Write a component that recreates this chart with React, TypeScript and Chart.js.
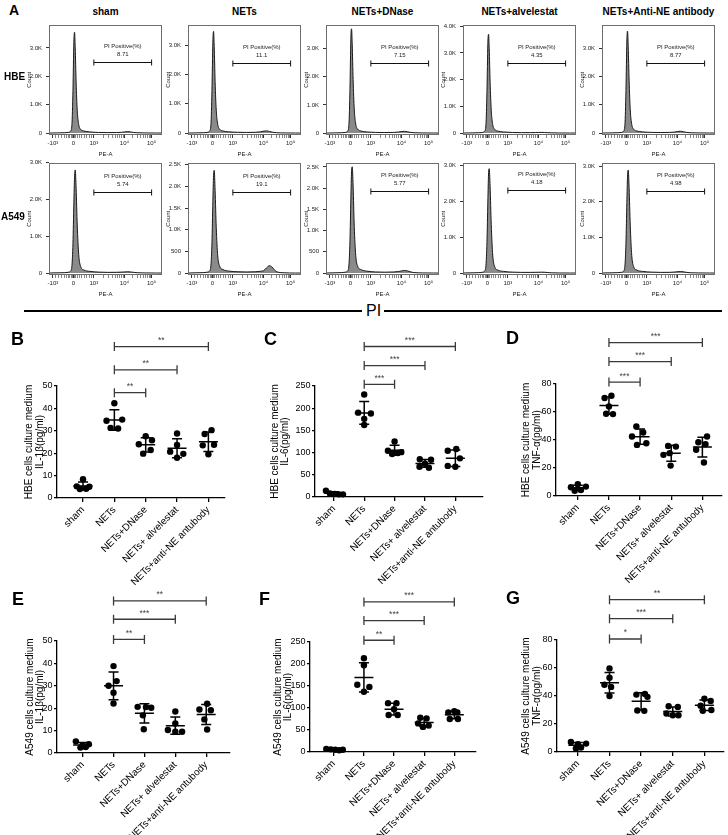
import React, { useEffect, useRef } from 'react';
import { Chart, registerables } from 'chart.js';

Chart.register(...registerables);

const FONT = "'Liberation Sans', Arial, Helvetica, sans-serif";
Chart.defaults.font.family = FONT;
Chart.defaults.color = '#000';

// ================= Panel A : flow cytometry histograms =================
const flowConditions = ['sham', 'NETs', 'NETs+DNase', 'NETs+alvelestat', 'NETs+Anti-NE antibody'];
const flowCellLines = ['HBE', 'A549'];
const peTickLabels = ['-10³', '0', '10³', '10⁴', '10⁵'];
const peTickPos = [3.5, 21.5, 39.7, 66.8, 90.8];
const peMinorPos = [5.8, 8.5, 11, 13.3, 15.3, 17, 18.5, 19.6, 20.6, 22.5, 23.6, 25, 26.7, 28.7, 31, 33.4, 35.8, 38,
  47.9, 52.6, 56.0, 58.6, 60.8, 62.6, 64.2, 65.6, 74.0, 78.3, 81.2, 83.6, 85.5, 87.1, 88.5, 89.7];
// PE-A display position (% of axis) of every histogram point
const histX = [0, 8, 14, 17, 19, 20.3, 21.2, 22, 22.6, 23.2, 24, 25, 26.3, 28, 31, 36, 44, 52, 60, 64, 67, 69.5, 72, 74.5, 78, 85, 95, 100];
// counts (HBE row)
const histHBE = [
  [0, 5, 10, 20, 60, 300, 1500, 3200, 3550, 3000, 1800, 800, 300, 130, 70, 40, 20, 15, 18, 25, 40, 50, 40, 22, 10, 4, 0, 0],
  [0, 5, 10, 20, 60, 290, 1450, 3100, 3470, 2950, 1750, 780, 300, 130, 70, 40, 25, 20, 25, 40, 65, 72, 55, 30, 12, 4, 0, 0],
  [0, 5, 10, 20, 60, 310, 1550, 3350, 3700, 3150, 1900, 850, 320, 140, 70, 40, 22, 18, 22, 35, 55, 60, 45, 25, 10, 4, 0, 0],
  [0, 5, 10, 20, 60, 310, 1550, 3350, 3700, 3150, 1900, 850, 320, 140, 70, 40, 20, 15, 15, 18, 22, 25, 20, 14, 6, 2, 0, 0],
  [0, 5, 10, 20, 60, 300, 1500, 3250, 3600, 3050, 1850, 820, 310, 135, 70, 40, 22, 18, 22, 32, 55, 62, 45, 25, 10, 4, 0, 0],
];
// counts (A549 row)
const histA549 = [
  [0, 5, 10, 20, 50, 200, 800, 1900, 2600, 2800, 2300, 1300, 500, 180, 80, 45, 25, 18, 20, 25, 30, 35, 30, 20, 8, 3, 0, 0],
  [0, 5, 10, 20, 45, 180, 700, 1650, 2250, 2370, 1900, 1050, 400, 160, 80, 45, 30, 25, 30, 40, 55, 120, 170, 135, 35, 6, 0, 0],
  [0, 5, 10, 20, 45, 190, 750, 1750, 2380, 2500, 2050, 1100, 420, 160, 80, 45, 25, 20, 25, 35, 50, 60, 50, 30, 10, 3, 0, 0],
  [0, 5, 10, 20, 50, 210, 850, 2000, 2750, 2900, 2400, 1350, 500, 180, 80, 45, 25, 18, 18, 20, 22, 25, 22, 15, 6, 2, 0, 0],
  [0, 5, 10, 20, 50, 210, 840, 1980, 2720, 2890, 2380, 1340, 500, 180, 80, 45, 25, 18, 20, 28, 38, 42, 35, 20, 8, 3, 0, 0],
];
const histMaxHBE = [3820, 3700, 3850, 4060, 3830];
const histMaxA549 = [3000, 2550, 2600, 3070, 3100];
const histStepHBE = [1000, 1000, 1000, 1000, 1000];
const histStepA549 = [1000, 500, 500, 1000, 1000];
const gateHBE = [2490, 2400, 2500, 2640, 2490];
const gateA549 = [2200, 1880, 1920, 2310, 2290];
const piPositiveHBE = ['8.71', '11.1', '7.15', '4.35', '8.77'];
const piPositiveA549 = ['5.74', '19.1', '5.77', '4.18', '4.98'];

// ================= Panels B-G : cytokines =================
const dotCategories = ['sham', 'NETs', 'NETs+DNase', 'NETs+ alvelestat', 'NETs+anti-NE antubody'];

const hbeIL1b = [[8.4, 5.2, 5.0, 4.0, 4.1], [42.3, 34.5, 35.0, 31.3, 31.0], [27.6, 25.8, 24.0, 19.8, 21.4], [28.8, 23.7, 20.7, 19.7, 18.0], [30.3, 28.6, 23.5, 23.8, 19.5]];
const hbeIL1bJit = [[0, -0.2, 0.2, -0.1, 0.1], [0, -0.25, 0.25, -0.12, 0.12], [0, 0.2, -0.22, -0.08, 0.16], [0, 0, -0.22, 0.2, 0], [0.1, -0.12, -0.18, 0.18, 0]];
const hbeIL6 = [[14, 8, 7, 6, 6], [231, 190, 188, 176, 162], [125, 104, 101, 97, 99], [85, 84, 75, 68, 66], [108, 104, 87, 70, 68]];
const hbeIL6Jit = [[-0.26, -0.13, 0.03, 0.17, 0.3], [0, -0.2, 0.22, 0, 0], [0, -0.22, 0.22, -0.08, 0.1], [-0.17, 0.2, 0, -0.18, 0.13], [0.03, -0.25, 0.15, -0.25, 0]];
const hbeTNF = [[8.4, 6.2, 6.7, 3.8, 4.2], [71.6, 70.0, 64.0, 58.7, 58.5], [49.7, 45.4, 42.5, 36.5, 37.7], [35.8, 35.3, 30.6, 29.4, 21.7], [42.5, 38.4, 37.0, 33.0, 23.9]];
const hbeTNFJit = [[0, -0.22, 0.26, -0.1, 0.1], [0.08, -0.14, 0, -0.09, 0.13], [-0.12, 0.1, -0.26, -0.1, 0.2], [-0.1, 0.15, -0.05, -0.25, -0.02], [0.15, -0.13, 0.1, -0.2, 0.05]];
const a549IL1b = [[5.2, 3.9, 3.5, 2.4, 2.7], [38.8, 32.1, 30.0, 26.9, 22.1], [20.6, 20.5, 20.2, 16.8, 10.6], [18.5, 13.2, 10.3, 9.5, 9.5], [22.0, 19.4, 19.1, 15.0, 10.5]];
const a549IL1bJit = [[-0.22, 0.2, 0, -0.07, 0.1], [0, 0.1, -0.16, 0, 0], [-0.22, 0.05, 0.22, -0.05, -0.02], [0, 0, -0.24, 0.22, 0], [0.03, -0.22, 0.15, -0.06, 0.03]];
const a549IL6 = [[7, 6, 5, 4, 5], [213, 197, 153, 148, 137], [111, 111, 97, 84, 84], [78, 76, 65, 60, 57], [90, 93, 90, 75, 75]];
const a549IL6Jit = [[-0.25, -0.1, 0.05, 0.18, 0.3], [0, 0, -0.22, 0.18, 0], [-0.2, 0.08, 0, -0.18, 0.12], [-0.13, 0.08, -0.2, 0.15, -0.04], [-0.2, 0, 0.1, -0.15, 0.12]];
const a549TNF = [[7.2, 5.5, 6.0, 2.5, 3.2], [59.7, 53.0, 48.0, 46.5, 40.0], [41.5, 41.0, 39.4, 29.6, 29.4], [32.7, 32.2, 27.5, 26.2, 26.3], [38.0, 36.5, 33.0, 30.0, 29.5]];
const a549TNFJit = [[-0.22, 0, 0.26, -0.06, 0.1], [0, 0, -0.16, 0.05, 0], [0.12, -0.15, 0.2, -0.12, 0.1], [-0.13, 0.16, -0.2, 0, 0.18], [0, 0.2, -0.12, 0.22, -0.05]];

const starsB = ['**', '**', '**'];
const starsC = ['***', '***', '***'];
const starsD = ['***', '***', '***'];
const starsE = ['**', '***', '**'];
const starsF = ['**', '***', '***'];
const starsG = ['*', '***', '**'];

// ---------------- plugins ----------------
const boxPlugin = {
  id: 'box',
  afterDraw(chart: any) {
    const { ctx, chartArea: a } = chart;
    ctx.save();
    ctx.strokeStyle = '#6e6e6e';
    ctx.lineWidth = 1;
    ctx.strokeRect(Math.round(a.left) + 0.5, Math.round(a.top) + 0.5, Math.round(a.right - a.left) - 1, Math.round(a.bottom - a.top) - 1);
    ctx.restore();
  },
};

const gatePlugin = {
  id: 'gate',
  afterDatasetsDraw(chart: any, _args: any, opts: any) {
    const { ctx, scales } = chart;
    const x1 = scales.x.getPixelForValue(opts.from);
    const x2 = scales.x.getPixelForValue(opts.to);
    const yy = Math.round(scales.y.getPixelForValue(opts.level)) + 0.5;
    ctx.save();
    ctx.strokeStyle = '#111';
    ctx.lineWidth = 1;
    ctx.beginPath();
    ctx.moveTo(x1, yy); ctx.lineTo(x2, yy);
    ctx.moveTo(x1, yy - 3); ctx.lineTo(x1, yy + 3);
    ctx.moveTo(x2, yy - 3); ctx.lineTo(x2, yy + 3);
    ctx.stroke();
    ctx.fillStyle = '#222';
    ctx.font = `6px ${FONT}`;
    ctx.textAlign = 'center';
    ctx.textBaseline = 'middle';
    const cx = (x1 + x2) / 2;
    ctx.fillText('PI Positive(%)', cx, yy - 16);
    ctx.fillText(opts.value, cx, yy - 8);
    ctx.restore();
  },
};

const statsPlugin = {
  id: 'stats',
  afterDatasetsDraw(chart: any, _args: any, opts: any) {
    const { ctx, scales } = chart;
    const x = scales.x, y = scales.y;
    ctx.save();
    ctx.strokeStyle = '#000';
    ctx.lineWidth = 1.5;
    opts.groups.forEach((vals: number[], i: number) => {
      const n = vals.length;
      const mean = vals.reduce((s, v) => s + v, 0) / n;
      const sd = Math.sqrt(vals.reduce((s, v) => s + (v - mean) * (v - mean), 0) / (n - 1));
      const cx = x.getPixelForValue(i);
      const ym = y.getPixelForValue(mean);
      const yt = y.getPixelForValue(mean + sd);
      const yb = y.getPixelForValue(mean - sd);
      ctx.beginPath();
      ctx.moveTo(cx - 9.5, ym); ctx.lineTo(cx + 9.5, ym);
      ctx.moveTo(cx, yt); ctx.lineTo(cx, yb);
      ctx.moveTo(cx - 5, yt); ctx.lineTo(cx + 5, yt);
      ctx.moveTo(cx - 5, yb); ctx.lineTo(cx + 5, yb);
      ctx.stroke();
    });
    // significance brackets NETs vs each treatment
    ctx.strokeStyle = '#3a3a3a';
    ctx.lineWidth = 1.3;
    ctx.fillStyle = '#444';
    ctx.font = `8.5px ${FONT}`;
    ctx.textAlign = 'center';
    ctx.textBaseline = 'alphabetic';
    opts.levels.forEach((lv: number, k: number) => {
      const xa = x.getPixelForValue(1);
      const xb = x.getPixelForValue(k + 2);
      const yy = y.getPixelForValue(opts.ymax * lv);
      ctx.beginPath();
      ctx.moveTo(xa, yy); ctx.lineTo(xb, yy);
      ctx.moveTo(xa, yy - 4.5); ctx.lineTo(xa, yy + 4.5);
      ctx.moveTo(xb, yy - 4.5); ctx.lineTo(xb, yy + 4.5);
      ctx.stroke();
      ctx.fillText(opts.stars[k], (xa + xb) / 2, yy - 3.5);
    });
    ctx.restore();
  },
};

// ---------------- components ----------------
const HIST_YW = 28, HIST_XH = 25, HIST_PT = 6, HIST_PR = 4, HIST_BOXW = 113;
const histBoxLeft = [49, 188, 326, 463, 602];

function Histogram(p: { boxLeft: number; boxTop: number; boxH: number; counts: number[]; ymax: number; ystep: number; gate: number; pi: string }) {
  const ref = useRef<HTMLCanvasElement>(null);
  const w = HIST_YW + HIST_BOXW + HIST_PR;
  const h = HIST_PT + p.boxH + HIST_XH;
  useEffect(() => {
    const labelMap = new Map<number, string>(peTickPos.map((v, i) => [v, peTickLabels[i]]));
    const xTicks = [...peTickPos, ...peMinorPos].sort((a, b) => a - b);
    const yTicks: number[] = [];
    for (let v = 0; v <= p.ymax + 1e-6; v += p.ystep) yTicks.push(v);
    const ymin = -p.ymax * 2 / (p.boxH - 2);
    const chart = new Chart(ref.current!, {
      type: 'line',
      data: {
        datasets: [{
          data: histX.map((x, i) => ({ x, y: p.counts[i] })),
          fill: 'origin',
          backgroundColor: '#8a8a8a',
          borderColor: '#1a1a1a',
          borderWidth: 1,
          pointRadius: 0,
          cubicInterpolationMode: 'monotone',
        }],
      },
      options: {
        animation: false,
        responsive: false,
        devicePixelRatio: 1,
        events: [],
        layout: { padding: { top: HIST_PT, right: HIST_PR, left: 0, bottom: 0 } },
        plugins: {
          legend: { display: false },
          tooltip: { enabled: false },
          gate: { from: peTickPos[2], to: peTickPos[4], level: p.gate, value: p.pi },
        } as any,
        scales: {
          x: {
            type: 'linear', min: 0, max: 100,
            afterBuildTicks: (s: any) => { s.ticks = xTicks.map((v) => ({ value: v })); },
            afterFit: (s: any) => { s.height = HIST_XH; },
            border: { display: false },
            grid: { drawOnChartArea: false, tickLength: 3, color: '#333', tickWidth: (c: any) => (labelMap.has(c.tick?.value) ? 1 : 0.6) } as any,
            ticks: { autoSkip: false, maxRotation: 0, minRotation: 0, padding: 2, color: '#222', font: { size: 6 }, callback: (v: any) => labelMap.get(v) ?? '' },
            title: { display: true, text: 'PE-A', font: { size: 6 }, color: '#222', padding: { top: 0, bottom: 2 } },
          },
          y: {
            type: 'linear', min: ymin, max: p.ymax,
            afterBuildTicks: (s: any) => { s.ticks = yTicks.map((v) => ({ value: v })); },
            afterFit: (s: any) => { s.width = HIST_YW; },
            border: { display: false },
            grid: { drawOnChartArea: false, tickLength: 3, color: '#333' },
            ticks: { padding: 4, color: '#222', font: { size: 6 }, callback: (v: any) => (v === 0 ? '0' : v >= 1000 ? (v / 1000).toFixed(1) + 'K' : String(v)) },
            title: { display: true, text: 'Count', font: { size: 6 }, color: '#222', padding: { top: 5, bottom: 0 } },
          },
        },
      } as any,
      plugins: [boxPlugin, gatePlugin],
    });
    return () => chart.destroy();
  }, []);
  return <canvas ref={ref} width={w} height={h} style={{ position: 'absolute', left: p.boxLeft - HIST_YW, top: p.boxTop - HIST_PT, width: w, height: h }} />;
}

type DotCfg = {
  left: number; top: number; width: number; height: number; padTop: number; yw: number; xh: number;
  xmin: number; xmax: number; ymax: number; ystep: number; groups: number[][]; jitter: number[][];
  title: string[]; titlePad: number; levels: number[]; stars: string[];
};

function DotPlot({ c }: { c: DotCfg }) {
  const ref = useRef<HTMLCanvasElement>(null);
  useEffect(() => {
    const pts: { x: number; y: number }[] = [];
    c.groups.forEach((g, i) => g.forEach((v, j) => pts.push({ x: i + c.jitter[i][j], y: v })));
    const chart = new Chart(ref.current!, {
      type: 'scatter',
      data: { datasets: [{ data: pts, backgroundColor: '#000', borderWidth: 0, pointRadius: 3.2, clip: false } as any] },
      options: {
        animation: false,
        responsive: false,
        devicePixelRatio: 1,
        events: [],
        layout: { padding: { top: c.padTop, right: 2, left: 0, bottom: 0 } },
        plugins: {
          legend: { display: false },
          tooltip: { enabled: false },
          stats: { groups: c.groups, levels: c.levels, stars: c.stars, ymax: c.ymax },
        } as any,
        scales: {
          x: {
            type: 'linear', min: c.xmin, max: c.xmax,
            afterBuildTicks: (s: any) => { s.ticks = dotCategories.map((_, i) => ({ value: i })); },
            afterFit: (s: any) => { s.height = c.xh; },
            border: { color: '#000', width: 1.3 },
            grid: { drawOnChartArea: false, tickLength: 4, color: '#000', lineWidth: 1.3 },
            ticks: { autoSkip: false, minRotation: 45, maxRotation: 45, padding: 2, color: '#000', font: { size: 10 }, callback: (_v: any, i: number) => dotCategories[i] },
          },
          y: {
            type: 'linear', min: 0, max: c.ymax,
            ticks: { stepSize: c.ystep, padding: 1.5, color: '#000', font: { size: 9 } },
            afterFit: (s: any) => { s.width = c.yw; },
            border: { color: '#000', width: 1.3 },
            grid: { drawOnChartArea: false, tickLength: 3, color: '#000', lineWidth: 1.3 },
            title: { display: true, text: c.title, color: '#000', font: { size: 10, lineHeight: 1.05 }, padding: { top: c.titlePad, bottom: 0 } },
          },
        },
      } as any,
      plugins: [statsPlugin],
    });
    return () => chart.destroy();
  }, []);
  return <canvas ref={ref} width={c.width} height={c.height} style={{ position: 'absolute', left: c.left, top: c.top, width: c.width, height: c.height }} />;
}

const dotPanels: { letter: string; lx: number; ly: number; cfg: DotCfg }[] = [
  { letter: 'B', lx: 11, ly: 330, cfg: { left: 0, top: 325, width: 229, height: 268, padTop: 61, yw: 57, xh: 95, xmin: -0.83, xmax: 4.53, ymax: 50, ystep: 10, groups: hbeIL1b, jitter: hbeIL1bJit, title: ['HBE cells culture medium', 'IL-1β(pg/ml)'], titlePad: 24.25, levels: [0.94, 1.144, 1.352], stars: starsB } },
  { letter: 'C', lx: 264, ly: 330, cfg: { left: 250, top: 325, width: 237, height: 267, padTop: 61, yw: 65, xh: 95, xmin: -0.62, xmax: 4.91, ymax: 250, ystep: 50, groups: hbeIL6, jitter: hbeIL6Jit, title: ['HBE cells culture medium', 'IL-6(pg/ml)'], titlePad: 19.75, levels: [1.015, 1.184, 1.356], stars: starsC } },
  { letter: 'D', lx: 506, ly: 329, cfg: { left: 490, top: 325, width: 236, height: 266, padTop: 59, yw: 66, xh: 95, xmin: -0.7, xmax: 4.63, ymax: 80, ystep: 20, groups: hbeTNF, jitter: hbeTNFJit, title: ['HBE cells culture medium', 'TNF-α(pg/ml)'], titlePad: 31.25, levels: [1.017, 1.2, 1.37], stars: starsD } },
  { letter: 'E', lx: 12, ly: 590, cfg: { left: 0, top: 580, width: 234, height: 255, padTop: 61, yw: 57, xh: 82, xmin: -0.83, xmax: 4.77, ymax: 50, ystep: 10, groups: a549IL1b, jitter: a549IL1bJit, title: ['A549 cells culture medium', 'IL-1β(pg/ml)'], titlePad: 24.75, levels: [1.014, 1.194, 1.358], stars: starsE } },
  { letter: 'F', lx: 259, ly: 590, cfg: { left: 250, top: 580, width: 230, height: 255, padTop: 62, yw: 60, xh: 83, xmin: -0.79, xmax: 4.72, ymax: 250, ystep: 50, groups: a549IL6, jitter: a549IL6Jit, title: ['A549 cells culture medium', 'IL-6(pg/ml)'], titlePad: 22.75, levels: [1.016, 1.195, 1.364], stars: starsF } },
  { letter: 'G', lx: 506, ly: 589, cfg: { left: 490, top: 580, width: 238, height: 255, padTop: 60, yw: 67, xh: 83, xmin: -0.66, xmax: 4.62, ymax: 80, ystep: 20, groups: a549TNF, jitter: a549TNFJit, title: ['A549 cells culture medium', 'TNF-α(pg/ml)'], titlePad: 31.25, levels: [1.009, 1.19, 1.36], stars: starsG } },
];

const flowRows = [
  { boxTop: 23, boxH: 112, counts: histHBE, max: histMaxHBE, step: histStepHBE, gate: gateHBE, pi: piPositiveHBE, labelTop: 72, labelLeft: 4 },
  { boxTop: 161, boxH: 114, counts: histA549, max: histMaxA549, step: histStepA549, gate: gateA549, pi: piPositiveA549, labelTop: 212, labelLeft: 1 },
];

function Txt({ children, left, top, size, bold, width, align }: any) {
  return (
    <div style={{ position: 'absolute', left, top, fontSize: size, fontWeight: bold ? 'bold' : 'normal', lineHeight: 1, whiteSpace: 'nowrap', width, textAlign: align || 'left' }}>{children}</div>
  );
}

export default function App() {
  return (
    <div style={{ position: 'fixed', left: 0, top: 0, width: 728, height: 835, overflow: 'hidden', background: '#fff', fontFamily: FONT, color: '#000' }}>
      <Txt left={9} top={3} size={14} bold>A</Txt>
      {flowConditions.map((c, i) => (
        <Txt key={c} left={histBoxLeft[i] - 40} top={7} width={HIST_BOXW + 80} size={10} bold align="center">{c}</Txt>
      ))}
      {flowRows.map((r, ri) => (
        <React.Fragment key={ri}>
          {flowConditions.map((c, i) => (
            <Histogram key={c} boxLeft={histBoxLeft[i]} boxTop={r.boxTop} boxH={r.boxH} counts={r.counts[i]} ymax={r.max[i]} ystep={r.step[i]} gate={r.gate[i]} pi={r.pi[i]} />
          ))}
          <Txt left={r.labelLeft} top={r.labelTop} size={10} bold>{flowCellLines[ri]}</Txt>
        </React.Fragment>
      ))}
      <div style={{ position: 'absolute', left: 24, top: 310, width: 338, height: 2, background: '#000' }} />
      <div style={{ position: 'absolute', left: 384, top: 310, width: 338, height: 2, background: '#000' }} />
      <Txt left={366} top={303} size={16}>PI</Txt>
      {dotPanels.map((d) => (
        <React.Fragment key={d.letter}>
          <DotPlot c={d.cfg} />
          <Txt left={d.lx} top={d.ly} size={18} bold>{d.letter}</Txt>
        </React.Fragment>
      ))}
    </div>
  );
}
